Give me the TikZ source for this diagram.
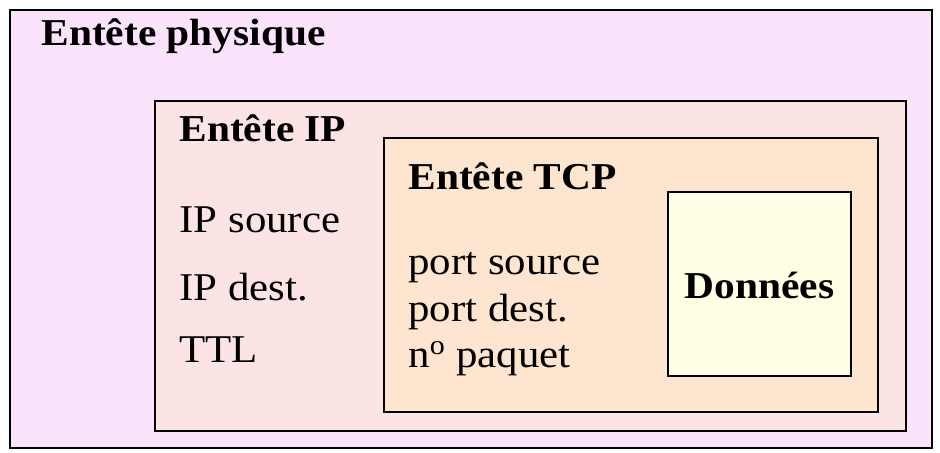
\documentclass[tikz,border=0pt]{standalone}
\usepackage{fontspec}
\setmainfont{Liberation Serif}[FakeStretch=1.09]

\definecolor{physfill}{RGB}{251,227,251}
\definecolor{ipfill}{RGB}{252,228,228}
\definecolor{tcpfill}{RGB}{253,229,207}
\definecolor{datafill}{RGB}{255,255,229}

\tikzset{every picture/.style={line width=0.75pt}}
\tikzset{
  couche/.style={draw=black,line width=1.5pt},
  titre/.style={anchor=base west,inner sep=0.75pt,font=\fontsize{28.5}{34}\selectfont\bfseries},
  champ/.style={anchor=base west,inner sep=0.75pt,font=\fontsize{29.5}{34}\selectfont}
}

\begin{document}
\begin{tikzpicture}[x=0.75pt,y=0.75pt,yscale=-1,xscale=1]
\path[use as bounding box] (0,0) rectangle (940,453);

%Shape: Rectangle [physique]
\draw [couche,fill=physfill] (10,10) rectangle (932,448) ;
%Shape: Rectangle [IP]
\draw [couche,fill=ipfill] (155,101) rectangle (906,431) ;
%Shape: Rectangle [TCP]
\draw [couche,fill=tcpfill] (384,138) rectangle (878,412) ;
%Shape: Rectangle [donnees]
\draw [couche,fill=datafill] (668,192) rectangle (851,376) ;

% Text Node
\node (phys) at (40,46) [titre] {Entête physique};
% Text Node
\node (ip) at (178,142) [titre] {Entête IP};
\node (ipsrc) at (178,233) [champ] {IP source};
\node (ipdst) at (178,300) [champ] {IP dest.};
\node (ttl) at (178,362) [champ] {TTL};
% Text Node
\node (tcp) at (407,190) [titre] {Entête TCP};
\node (portsrc) at (407,274) [champ] {port source};
\node (portdst) at (407,321) [champ] {port dest.};
\node (paquet) at (407,367) [champ] {n\textsuperscript{o} paquet};
% Text Node
\node (donnees) at (759.5,298) [titre,anchor=base] {Données};

\end{tikzpicture}
\end{document}
